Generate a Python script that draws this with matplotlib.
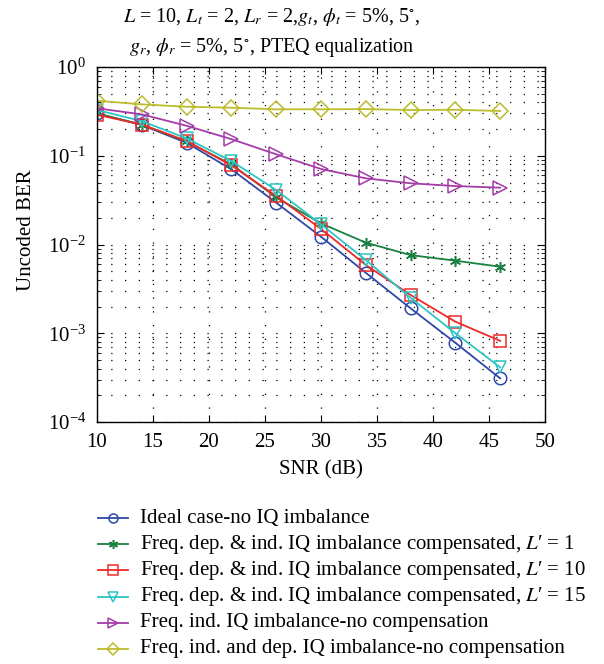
import matplotlib.pyplot as plt
from matplotlib.lines import Line2D
from matplotlib.ticker import LogLocator, NullFormatter
import numpy as np

plt.rcParams['font.family'] = ['Liberation Serif', 'DejaVu Serif']
plt.rcParams['mathtext.fontset'] = 'stix'

snr = [10, 14, 18, 22, 26, 30, 34, 38, 42, 46]

ber_ideal = [0.30, 0.222, 0.140, 0.0704, 0.0296, 0.01225, 0.0048, 0.00191, 0.00078, 0.00031]
ber_comp1 = [0.30, 0.225, 0.145, 0.080, 0.034, 0.0173, 0.0105, 0.0076, 0.00657, 0.00562]
ber_comp10 = [0.29, 0.225, 0.147, 0.078, 0.0352, 0.0150, 0.00588, 0.0027, 0.00135, 0.00082]
ber_comp15 = [0.328, 0.246, 0.157, 0.0873, 0.0411, 0.0169, 0.00669, 0.00251, 0.0010, 0.000413]
ber_ind_nocomp = [0.343, 0.293, 0.218, 0.154, 0.104, 0.071, 0.0557, 0.049, 0.0456, 0.0437]
ber_all_nocomp = [0.417, 0.38, 0.357, 0.348, 0.334, 0.334, 0.336, 0.328, 0.330, 0.320]

labels = [
    'Ideal case-no IQ imbalance',
    'Freq. dep. & ind. IQ imbalance compensated, $L$\u2032 = 1',
    'Freq. dep. & ind. IQ imbalance compensated, $L$\u2032 = 10',
    'Freq. dep. & ind. IQ imbalance compensated, $L$\u2032 = 15',
    'Freq. ind. IQ imbalance-no compensation',
    'Freq. ind. and dep. IQ imbalance-no compensation',
]

series = [ber_ideal, ber_comp1, ber_comp10, ber_comp15, ber_ind_nocomp, ber_all_nocomp]
colors = ['#2e48a8', '#1a8040', '#f02828', '#2ec4c4', '#a43ca8', '#bcbc2c']
markers = ['o', (6, 2, 0), 's', 'v', '>', 'D']
msizes = [9, 8, 8, 9, 10, 8]

fig = plt.figure(figsize=(6.04, 6.64), dpi=100)
ax = fig.add_axes([0.1606, 0.3645, 0.7417, 0.5345])

for y, c, m, ms in zip(series, colors, markers, msizes):
    ax.semilogy(snr, y, color=c, marker=m, markersize=ms, markerfacecolor='none',
                markeredgecolor=c, markeredgewidth=1.1, linewidth=1.3)

ax.set_xlim(10, 50)
ax.set_ylim(1e-4, 1)
ax.set_xticks(range(10, 51, 5))
ax.yaxis.set_major_locator(LogLocator(base=10, numticks=10))
ax.yaxis.set_minor_locator(LogLocator(base=10, subs=np.arange(2, 10), numticks=20))
ax.yaxis.set_minor_formatter(NullFormatter())
ax.tick_params(which='both', direction='in', top=True, right=True, labelsize=15)
ax.tick_params(which='major', length=5, pad=8)
ax.tick_params(which='minor', length=3)
dots = (0, (1, 10))
ax.grid(True, which='major', linestyle=dots, color='black', linewidth=0.9)
ax.grid(True, which='minor', axis='y', linestyle=dots, color='black', linewidth=0.9)
for s in ax.spines.values():
    s.set_linewidth(1.0)

ax.set_xlabel('SNR (dB)', fontsize=15, labelpad=6)
ax.set_ylabel('Uncoded BER', fontsize=15)
ax.yaxis.set_label_coords(-0.137, 0.54)
fig.text(0.45, 0.951,
         '$L$ = 10, $L_t$ = 2, $L_r$ = 2,$g_t$, $\\phi_t$ = 5%, 5$^{\\circ}$,\n'
         '$g_r$, $\\phi_r$ = 5%, 5$^{\\circ}$, PTEQ equalization',
         fontsize=14.5, ha='center', va='center', linespacing=1.45)

# legend below the axes, one row every ~26 px
for i, (c, m, lab) in enumerate(zip(colors, markers, labels)):
    yf = 1 - (518 + 26.2 * i) / 664
    fig.add_artist(Line2D([98 / 604, 128 / 604], [yf, yf], color=c, linewidth=1.3,
                          transform=fig.transFigure))
    fig.add_artist(Line2D([113 / 604], [yf], color=c, marker=m, markersize=6.5,
                          markerfacecolor='none', markeredgecolor=c, markeredgewidth=1.1,
                          transform=fig.transFigure))
    fig.text(140 / 604, yf, lab, fontsize=15, ha='left', va='center')

fig.savefig('out.png', dpi=100)
